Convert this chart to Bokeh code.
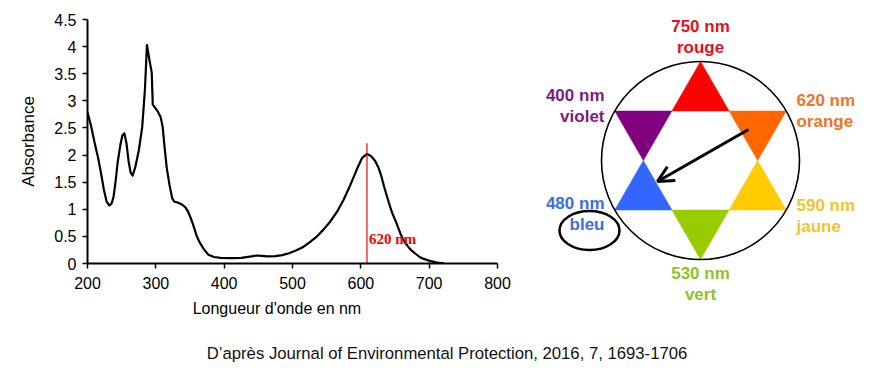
import math
from bokeh.plotting import figure
from bokeh.models import Range1d, FixedTicker, Arrow, OpenHead
from bokeh.layouts import column, row
from bokeh.core.properties import value
from bokeh.embed import file_html
from bokeh.resources import INLINE

# ---------------- data ----------------
wavelength = [200, 205, 210, 215, 219, 224, 228, 232, 235, 238, 241, 244, 248, 251, 254,
              257, 260, 263, 266, 270, 275, 280, 284, 287, 290, 294, 295.5, 302, 307, 310,
              313, 316, 320, 324, 327, 333, 338, 343, 347, 351, 355, 360, 365, 370, 377,
              385, 395, 410, 425, 440, 448, 455, 463, 475, 485, 495, 505, 515, 525, 535,
              545, 555, 565, 575, 585, 595, 602, 609, 615, 621, 626, 630, 634, 641, 646,
              651, 658, 663, 668, 674, 680, 686, 692, 702, 712, 722]
absorbance = [2.79, 2.55, 2.25, 1.98, 1.72, 1.36, 1.14, 1.07, 1.10, 1.22, 1.50, 1.85, 2.18, 2.36, 2.40,
              2.22, 1.90, 1.68, 1.62, 1.78, 2.08, 2.51, 3.20, 4.03, 3.80, 3.52, 2.93, 2.82, 2.70, 2.52,
              2.12, 1.76, 1.45, 1.20, 1.14, 1.12, 1.09, 1.04, 0.96, 0.84, 0.70, 0.50, 0.37, 0.27, 0.16,
              0.12, 0.105, 0.10, 0.105, 0.13, 0.148, 0.14, 0.13, 0.135, 0.155, 0.19, 0.24, 0.30, 0.39, 0.49,
              0.62, 0.77, 0.95, 1.18, 1.46, 1.76, 1.95, 2.02, 1.98, 1.89, 1.76, 1.61, 1.42, 1.12, 0.93,
              0.78, 0.55, 0.42, 0.33, 0.24, 0.18, 0.12, 0.085, 0.043, 0.015, 0.005]

x_ticks = [200, 300, 400, 500, 600, 700, 800]
y_ticks = [0, 0.5, 1, 1.5, 2, 2.5, 3, 3.5, 4, 4.5]
y_tick_labels = ["0", "0.5", "1", "1.5", "2", "2.5", "3", "3.5", "4", "4.5"]

marker_wavelength = 609
marker_top = 2.22
marker_label = "620 nm"

# colour wheel: vertex angle (deg), triangle colour, wavelength label, colour name, text colour
wheel_angles = [90, 30, -30, -90, 210, 150]
wheel_fill = ["#ff0000", "#ff6600", "#ffcc00", "#99cc00", "#3366ff", "#800080"]
wheel_nm = ["750 nm", "620 nm", "590 nm", "530 nm", "480 nm", "400 nm"]
wheel_names = ["rouge", "orange", "jaune", "vert", "bleu", "violet"]
wheel_text = ["#e3101e", "#f07424", "#f2c42b", "#8fc31f", "#3b6de5", "#7f1a7f"]

caption = "D\u2019après Journal of Environmental Protection, 2016, 7, 1693-1706"

FONT_NAME = "Liberation Sans"
FONT = value(FONT_NAME)

# ---------------- spectrum ----------------
p1 = figure(width=518, height=325, x_range=Range1d(200, 800), y_range=Range1d(0, 4.5),
            output_backend="svg", toolbar_location=None,
            min_border_left=87, min_border_right=21, min_border_top=19, min_border_bottom=62)
p1.frame_align = False
p1.outline_line_color = None
p1.grid.visible = False
p1.background_fill_color = "white"

p1.line(wavelength, absorbance, line_color="black", line_width=2.2, line_join="round")
p1.segment(x0=[marker_wavelength], y0=[0], x1=[marker_wavelength], y1=[marker_top],
           line_color="#ff0000", line_width=1.2)
p1.text(x=[marker_wavelength + 3], y=[0.46], text=[marker_label], text_color="#ff0000",
        text_font=value("Liberation Serif"), text_font_style="bold", text_font_size="15px",
        text_baseline="middle", text_align="left")

for ax in (p1.xaxis[0], p1.yaxis[0]):
    ax.axis_line_width = 2
    ax.axis_line_color = "black"
    ax.major_tick_line_color = "black"
    ax.major_tick_line_width = 1.5
    ax.major_tick_in = 0
    ax.major_tick_out = 5
    ax.minor_tick_line_color = None
    ax.major_label_text_font = FONT_NAME
    ax.major_label_text_font_size = "16px"
    ax.major_label_text_color = "black"
    ax.axis_label_text_font = FONT_NAME
    ax.axis_label_text_font_style = "normal"
    ax.axis_label_text_color = "black"

p1.xaxis.ticker = FixedTicker(ticks=x_ticks)
# trailing no-break spaces shift the centred label slightly left, as in the original
p1.xaxis.axis_label = "Longueur d'onde en nm" + "\u00a0" * 7
p1.xaxis.axis_label_text_font_size = "16px"
p1.xaxis.major_label_standoff = 8
p1.xaxis.axis_label_standoff = 8

p1.yaxis.ticker = FixedTicker(ticks=y_ticks)
p1.yaxis.major_label_overrides = {t: l for t, l in zip(y_ticks, y_tick_labels)}
p1.yaxis.axis_label = "Absorbance"
p1.yaxis.axis_label_text_font_size = "17px"
p1.yaxis.major_label_standoff = 6
p1.yaxis.axis_label_standoff = 13

# ---------------- colour wheel ----------------
R = 99.0
p2 = figure(width=361, height=325, x_range=Range1d(-182, 179), y_range=Range1d(-165, 160),
            output_backend="svg", toolbar_location=None, x_axis_type=None, y_axis_type=None,
            min_border=0)
p2.frame_align = False
p2.outline_line_color = None
p2.grid.visible = False

side = R * math.sqrt(3) / 3.0  # side of each small triangle
xs, ys = [], []
for a in wheel_angles:
    t = math.radians(a)
    vx, vy = R * math.cos(t), R * math.sin(t)
    b1 = t + math.radians(180 - 30)
    b2 = t + math.radians(180 + 30)
    xs.append([vx, vx + side * math.cos(b1), vx + side * math.cos(b2)])
    ys.append([vy, vy + side * math.sin(b1), vy + side * math.sin(b2)])
p2.patches(xs, ys, fill_color=wheel_fill, line_color=wheel_fill, line_width=0.5)
p2.circle(x=[0], y=[0], radius=R, fill_color=None, line_color="black", line_width=1.6)

lab_x, lab_y1, lab_y2, lab_align = [], [], [], []
for a in wheel_angles:
    t = math.radians(a)
    c, s = math.cos(t), math.sin(t)
    if abs(c) < 0.1:
        lab_x.append(0.0)
        mid = 124 if s > 0 else -123
        lab_align.append("center")
    else:
        lab_x.append(96 if c > 0 else -96)
        if s > 0:
            mid = 50 if c > 0 else 55
        else:
            mid = -55 if c > 0 else -53
        lab_align.append("left" if c > 0 else "right")
    lab_y1.append(mid + 10.5)
    lab_y2.append(mid - 10.5)

p2.text(x=lab_x, y=lab_y1, text=wheel_nm, text_color=wheel_text, text_align=lab_align,
        text_baseline="middle", text_font=FONT, text_font_style="bold", text_font_size="17px")
p2.text(x=lab_x, y=lab_y2, text=wheel_names, text_color=wheel_text, text_align=lab_align,
        text_baseline="middle", text_font=FONT, text_font_style="bold", text_font_size="17px")

# ellipse around "bleu"
p2.ellipse(x=[-111], y=[-70], width=60, height=39, fill_color=None, line_color="black", line_width=2.5)

# arrow orange -> blue
p2.add_layout(Arrow(end=OpenHead(size=16, line_width=3, line_color="black"),
                    x_start=48, y_start=31, x_end=-43, y_end=-21,
                    line_width=3, line_color="black"))

# ---------------- caption ----------------
p3 = figure(width=879, height=42, x_range=Range1d(0, 879), y_range=Range1d(0, 42),
            output_backend="svg", toolbar_location=None, x_axis_type=None, y_axis_type=None,
            min_border=0)
p3.frame_align = False
p3.outline_line_color = None
p3.grid.visible = False
p3.text(x=[446.5], y=[14], text=[caption], text_align="center", text_baseline="middle",
        text_font=FONT, text_font_size="16.7px", text_color="#111111")

layout = column(row(p1, p2), p3)
open("out.html", "w").write(file_html(layout, INLINE))
